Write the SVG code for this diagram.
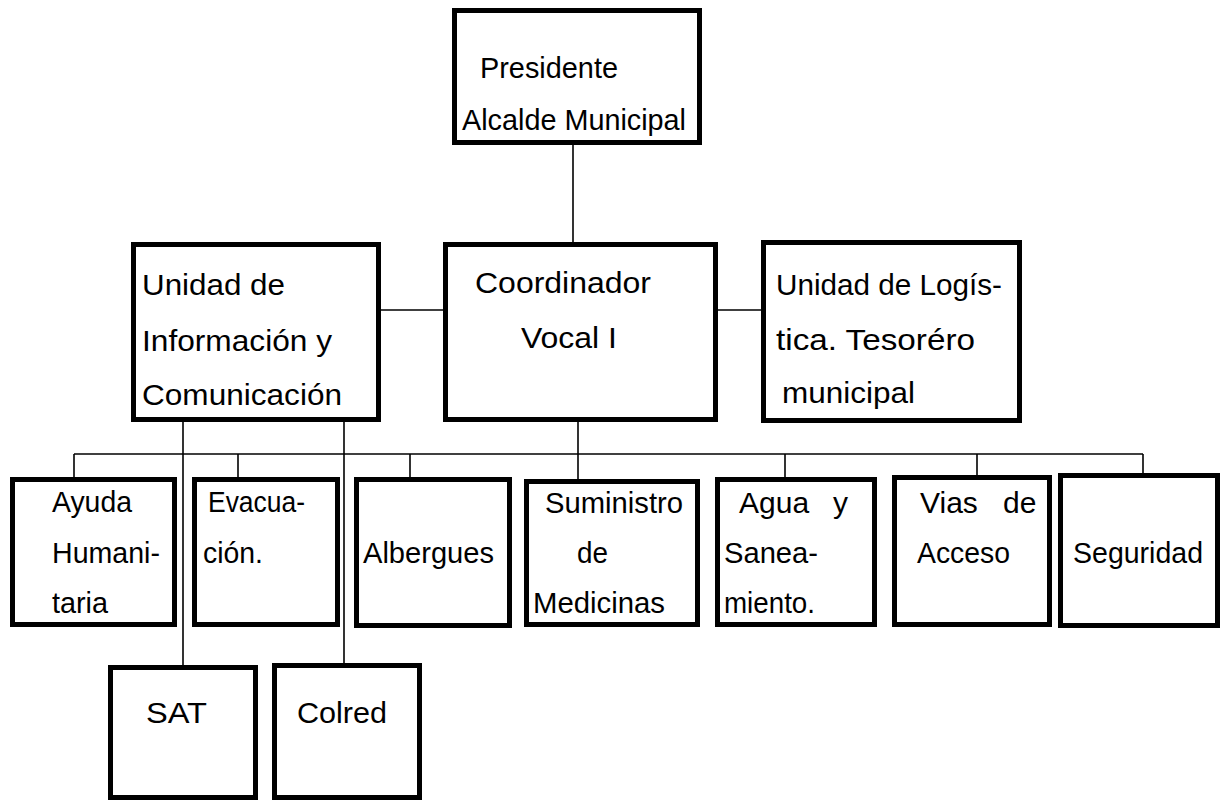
<svg xmlns="http://www.w3.org/2000/svg" width="1221" height="801" viewBox="0 0 1221 801">
<style>
.box{fill:#fff;stroke:#000;stroke-width:5}
.ln{stroke:#000;stroke-width:1.6;fill:none}
text{font-family:"Liberation Sans",Arial,sans-serif;font-size:30px;fill:#000}
</style>
<rect width="1221" height="801" fill="#fff"/>
<g id="connectors">
<line class="ln" x1="573" y1="145" x2="573" y2="242"/>
<line class="ln" x1="381" y1="310" x2="443" y2="310"/>
<line class="ln" x1="718" y1="310" x2="761" y2="310"/>
<line class="ln" x1="578" y1="422" x2="578" y2="480"/>
<line class="ln" x1="74" y1="454" x2="1143" y2="454"/>
<line class="ln" x1="74" y1="454" x2="74" y2="478"/>
<line class="ln" x1="238" y1="454" x2="238" y2="478"/>
<line class="ln" x1="410" y1="454" x2="410" y2="478"/>
<line class="ln" x1="785" y1="454" x2="785" y2="478"/>
<line class="ln" x1="977" y1="454" x2="977" y2="476"/>
<line class="ln" x1="1143" y1="454" x2="1143" y2="474"/>
<line class="ln" x1="183" y1="422" x2="183" y2="666"/>
<line class="ln" x1="344" y1="422" x2="344" y2="664"/>
</g>
<g id="presidente"><rect class="box" x="454.5" y="10.5" width="245" height="132"/>
<text x="480" y="78" textLength="138" lengthAdjust="spacingAndGlyphs">Presidente</text><text x="462" y="130" textLength="224" lengthAdjust="spacingAndGlyphs">Alcalde Municipal</text></g>
<g id="informacion"><rect class="box" x="133.5" y="244.5" width="245" height="175"/>
<text x="142" y="295" textLength="143" lengthAdjust="spacingAndGlyphs">Unidad de</text><text x="142" y="351" textLength="190" lengthAdjust="spacingAndGlyphs">Información y</text><text x="142" y="405" textLength="200" lengthAdjust="spacingAndGlyphs">Comunicación</text></g>
<g id="coordinador"><rect class="box" x="445.5" y="244.5" width="270" height="175"/>
<text x="475" y="293" textLength="176" lengthAdjust="spacingAndGlyphs">Coordinador</text><text x="521" y="348" textLength="96" lengthAdjust="spacingAndGlyphs">Vocal I</text></g>
<g id="logistica"><rect class="box" x="763.5" y="242.5" width="256" height="178"/>
<text x="776" y="295" textLength="226" lengthAdjust="spacingAndGlyphs">Unidad de Logís-</text><text x="776" y="350" textLength="199" lengthAdjust="spacingAndGlyphs">tica. Tesoréro</text><text x="782" y="403" textLength="133" lengthAdjust="spacingAndGlyphs">municipal</text></g>
<g id="ayuda"><rect class="box" x="12.5" y="479.5" width="162" height="145"/>
<text x="52" y="512" textLength="80" lengthAdjust="spacingAndGlyphs">Ayuda</text><text x="52" y="563" textLength="108" lengthAdjust="spacingAndGlyphs">Humani-</text><text x="52" y="613" textLength="56" lengthAdjust="spacingAndGlyphs">taria</text></g>
<g id="evacuacion"><rect class="box" x="194.5" y="479.5" width="143" height="145"/>
<text x="208" y="512" textLength="97" lengthAdjust="spacingAndGlyphs">Evacua-</text><text x="203" y="563" textLength="60" lengthAdjust="spacingAndGlyphs">ción.</text></g>
<g id="albergues"><rect class="box" x="356.5" y="479.5" width="153" height="146"/>
<text x="363" y="563" textLength="131" lengthAdjust="spacingAndGlyphs">Albergues</text></g>
<g id="suministro"><rect class="box" x="526.5" y="481.5" width="171" height="143"/>
<text x="545" y="513" textLength="138" lengthAdjust="spacingAndGlyphs">Suministro</text><text x="577" y="563" textLength="31" lengthAdjust="spacingAndGlyphs">de</text><text x="533" y="613" textLength="132" lengthAdjust="spacingAndGlyphs">Medicinas</text></g>
<g id="agua"><rect class="box" x="717.5" y="479.5" width="157" height="145"/>
<text y="513"><tspan x="739">Agua</tspan> <tspan x="833">y</tspan></text><text x="724" y="563" textLength="94" lengthAdjust="spacingAndGlyphs">Sanea-</text><text x="724" y="613" textLength="91" lengthAdjust="spacingAndGlyphs">miento.</text></g>
<g id="vias"><rect class="box" x="894.5" y="477.5" width="155" height="147"/>
<text y="513"><tspan x="920">Vias</tspan> <tspan x="1003">de</tspan></text><text x="917" y="563" textLength="93" lengthAdjust="spacingAndGlyphs">Acceso</text></g>
<g id="seguridad"><rect class="box" x="1060.5" y="475.5" width="157" height="150"/>
<text x="1073" y="563" textLength="130" lengthAdjust="spacingAndGlyphs">Seguridad</text></g>
<g id="sat"><rect class="box" x="110.5" y="667.5" width="145" height="130"/>
<text x="146" y="723" textLength="61" lengthAdjust="spacingAndGlyphs">SAT</text></g>
<g id="colred"><rect class="box" x="274.5" y="665.5" width="145" height="132"/>
<text x="297" y="723" textLength="90" lengthAdjust="spacingAndGlyphs">Colred</text></g>
</svg>
